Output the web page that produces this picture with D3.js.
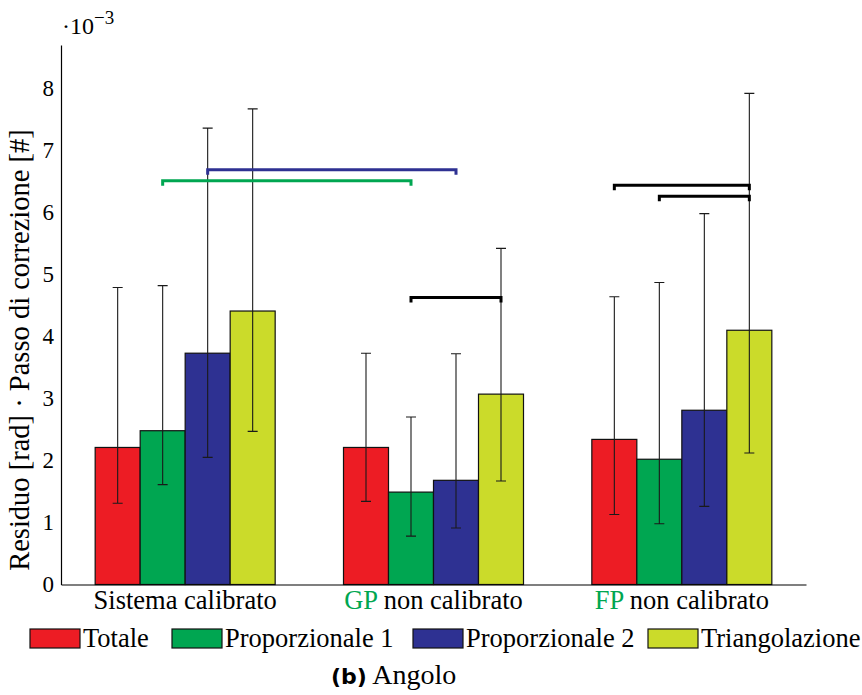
<!DOCTYPE html>
<html>
<head>
<meta charset="utf-8">
<script src="https://cdn.jsdelivr.net/npm/d3@7"></script>
<style>
  html, body { margin: 0; padding: 0; background: #fff; }
  svg { display: block; font-family: "Liberation Serif", "Times New Roman", serif; }
</style>
</head>
<body>
<svg id="chart" width="862" height="695"></svg>
<script>
// Categories, with the part of each label drawn in the accent colour
const categories = ["Sistema calibrato", "GP non calibrato", "FP non calibrato"];
const categoryAccent = ["", "GP", "FP"];

const series = ["Totale", "Proporzionale 1", "Proporzionale 2", "Triangolazione"];

// Bar heights (×10^-3), one array per series, one value per category
const totale        = [2.21, 2.21, 2.34];
const proporz1      = [2.48, 1.49, 2.02];
const proporz2      = [3.73, 1.68, 2.81];
const triangolaz    = [4.41, 3.07, 4.10];

// Error bar lower and upper ends
const totaleLow     = [1.31, 1.34, 1.13];
const totaleHigh    = [4.79, 3.73, 4.64];
const proporz1Low   = [1.61, 0.78, 0.98];
const proporz1High  = [4.82, 2.70, 4.87];
const proporz2Low   = [2.05, 0.91, 1.26];
const proporz2High  = [7.36, 3.72, 5.98];
const triangolazLow = [2.47, 1.67, 2.12];
const triangolazHigh= [7.67, 5.42, 7.92];

// Significance brackets: [category, series] start, [category, series] end, level
const bracketFrom  = [[0, 1], [0, 2], [1, 1], [2, 0], [2, 1]];
const bracketTo    = [[1, 1], [1, 2], [1, 3], [2, 3], [2, 3]];
const bracketLevel = [6.51, 6.69, 4.63, 6.44, 6.26];
const bracketTone  = [1, 2, null, null, null]; // series whose colour is used; null = black

const yTicks = [0, 1, 2, 3, 4, 5, 6, 7, 8];

const values = [totale, proporz1, proporz2, triangolaz];
const lows   = [totaleLow, proporz1Low, proporz2Low, triangolazLow];
const highs  = [totaleHigh, proporz1High, proporz2High, triangolazHigh];

const colors = ["#ED1C24", "#00A651", "#2E3192", "#CBDB2A"];
const accent = "#00A651";

const svg = d3.select("#chart");

const x0 = d3.scaleBand().domain(categories).range([61, 806]).padding(0);
const groupW = 180;
const x1 = d3.scaleBand().domain(series)
  .range([(x0.bandwidth() - groupW) / 2, (x0.bandwidth() + groupW) / 2]).padding(0);
const y = d3.scaleLinear().domain([0, 8.7]).range([584.5, 45]);

const barX = (ci, si) => x0(categories[ci]) + x1(series[si]);
const barC = (ci, si) => barX(ci, si) + x1.bandwidth() / 2;

// Bars
const rows = [];
categories.forEach((c, ci) => series.forEach((s, si) => rows.push({ ci, si })));

svg.append("g").selectAll("rect").data(rows).join("rect")
  .attr("x", d => barX(d.ci, d.si))
  .attr("y", d => y(values[d.si][d.ci]))
  .attr("width", x1.bandwidth())
  .attr("height", d => y(0) - y(values[d.si][d.ci]))
  .attr("fill", d => colors[d.si])
  .attr("stroke", "#111")
  .attr("stroke-width", 1.2);

// Error bars
const eb = svg.append("g").attr("stroke", "#1a1a1a").attr("stroke-width", 1.1).attr("fill", "none");
eb.selectAll("path").data(rows).join("path")
  .attr("d", d => {
    const cx = barC(d.ci, d.si);
    const lo = y(lows[d.si][d.ci]), hi = y(highs[d.si][d.ci]);
    return `M${cx - 5},${hi}H${cx + 5}M${cx},${hi}V${lo}M${cx - 5},${lo}H${cx + 5}`;
  });

// Significance brackets
const br = svg.append("g").attr("fill", "none").attr("stroke-width", 3).attr("stroke-linejoin", "miter");
br.selectAll("path").data(bracketLevel).join("path")
  .attr("stroke", (d, i) => bracketTone[i] === null ? "#000" : colors[bracketTone[i]])
  .attr("d", (lv, i) => {
    const xa = barC(bracketFrom[i][0], bracketFrom[i][1]);
    const xb = barC(bracketTo[i][0], bracketTo[i][1]);
    const yy = y(lv);
    return `M${xa},${yy + 5}V${yy}H${xb}V${yy + 5}`;
  });

// Y axis
const yAxis = svg.append("g").attr("transform", "translate(61,0)")
  .call(d3.axisLeft(y).tickValues(yTicks).tickSize(0).tickPadding(7).tickFormat(d3.format("d")));
yAxis.select(".domain").attr("stroke", "#000").attr("stroke-width", 1.2);
yAxis.selectAll("text").attr("font-family", "Liberation Serif").attr("font-size", 23).attr("fill", "#000");

// X axis
const xAxis = svg.append("g").attr("transform", `translate(0,${y(0)})`)
  .call(d3.axisBottom(x0).tickSize(0).tickFormat(""));
xAxis.select(".domain").attr("stroke", "#000").attr("stroke-width", 1.2);

// Category labels, with accent prefix
const catLabels = svg.append("g").selectAll("text").data(categories).join("text")
  .attr("x", d => x0(d) + x0.bandwidth() / 2)
  .attr("y", 609)
  .attr("text-anchor", "middle")
  .attr("font-size", 26.5);
catLabels.each(function (d, i) {
  const t = d3.select(this);
  const pre = categoryAccent[i];
  if (pre) {
    t.append("tspan").attr("fill", accent).text(pre);
    t.append("tspan").attr("fill", "#000").text(d.slice(pre.length));
  } else {
    t.append("tspan").attr("fill", "#000").text(d);
  }
});

// Exponent label
const ex = svg.append("text").attr("x", 62).attr("y", 34).attr("font-size", 24);
ex.append("tspan").text("·10");
ex.append("tspan").attr("dy", -10).attr("font-size", 19).text("−3");

// Y axis title
svg.append("text")
  .attr("transform", "translate(29,350) rotate(-90)")
  .attr("text-anchor", "middle")
  .attr("font-size", 28.5)
  .text("Residuo [rad] · Passo di correzione [#]");

// Legend
const legendX = [30, 172, 413, 648];
const lg = svg.append("g").selectAll("g").data(series).join("g")
  .attr("transform", (d, i) => `translate(${legendX[i]},629)`);
lg.append("rect").attr("width", 50).attr("height", 19)
  .attr("fill", (d, i) => colors[i]).attr("stroke", "#111").attr("stroke-width", 1.2);
lg.append("text").attr("x", 53).attr("y", 18).attr("font-size", 26.5).text(d => d);

// Caption
const cap = svg.append("text").attr("x", 331).attr("y", 684).attr("font-size", 28);
cap.append("tspan").attr("font-weight", "bold").attr("font-family", "DejaVu Sans").attr("font-size", 22).text("(b)");
cap.append("tspan").text(" Angolo");
</script>
</body>
</html>
